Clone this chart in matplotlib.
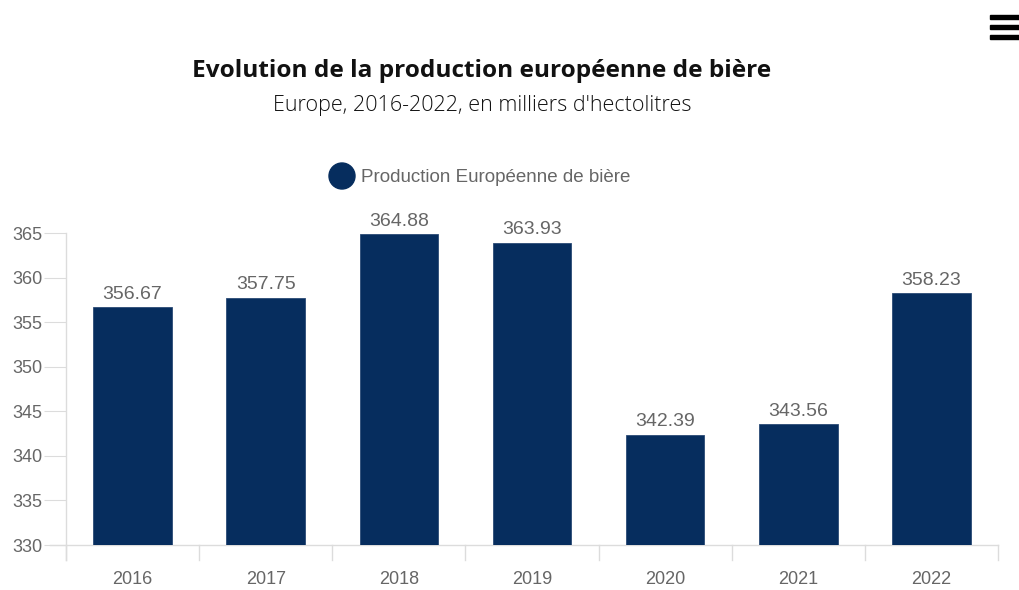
import matplotlib.pyplot as plt
from matplotlib.patches import Ellipse, Rectangle

annees = ['2016', '2017', '2018', '2019', '2020', '2021', '2022']
production = [356.67, 357.75, 364.88, 363.93, 342.39, 343.56, 358.23]

bleu = '#062d5e'
gris = '#666666'
gris_axe = '#dcdcdc'

fig = plt.figure(figsize=(10.2, 5.9), dpi=100)
W, H = 1020, 590

# zone du graphique en pixels : x 66..998, y 233..545
ax = fig.add_axes([66 / W, 1 - 545 / H, (998 - 66) / W, (545 - 233) / H])
x = list(range(len(annees)))
ax.bar(x, production, width=0.59, color=bleu, edgecolor='#2a4a75', linewidth=0.6,
       bottom=0, zorder=2)
ax.set_xlim(-0.5, len(annees) - 0.5)
ax.set_ylim(330, 365)

for xi, v in zip(x, production):
    ax.annotate(f'{v:.2f}', (xi, v), xytext=(0, 3), textcoords='offset points',
                ha='center', va='bottom', fontsize=14, color=gris,
                family='Liberation Sans', annotation_clip=False)

for s in ax.spines.values():
    s.set_visible(False)

# axes dessinés à la main pour dépasser légèrement
ax.plot([-0.5, -0.5], [365, 328.3], color=gris_axe, lw=1, clip_on=False, zorder=1)
ax.plot([-0.62, 6.5], [330, 330], color=gris_axe, lw=1, clip_on=False, zorder=1)
for b in range(len(annees) + 1):
    ax.plot([b - 0.5, b - 0.5], [330, 328.3], color=gris_axe, lw=1, clip_on=False)

ax.set_yticks(range(330, 366, 5))
ax.tick_params(axis='y', length=16, color=gris_axe, labelcolor=gris, labelsize=13, pad=1)
ax.set_xticks(x)
ax.set_xticklabels(annees)
ax.tick_params(axis='x', length=0, labelcolor=gris, labelsize=13, pad=18.5)
for lab in ax.get_xticklabels() + ax.get_yticklabels():
    lab.set_family('Liberation Sans')

fig.text(482 / W, 1 - 71 / H, 'Evolution de la production européenne de bière',
         ha='center', va='center', fontsize=17.6, fontweight='bold', family='Open Sans', color='#111111')
fig.text(482 / W, 1 - 105 / H, "Europe, 2016-2022, en milliers d'hectolitres",
         ha='center', va='center', fontsize=15.5, fontweight=300, family='Open Sans', color='#111111')

# légende
fig.add_artist(Ellipse((342 / W, 1 - 176 / H), 26 / W, 26 / H, color=bleu,
                       transform=fig.transFigure))
fig.text(361 / W, 1 - 177 / H, 'Production Européenne de bière', ha='left', va='center',
         fontsize=13.5, color=gris, family='Liberation Sans')

# icône menu
for yb in (15, 25, 35):
    fig.add_artist(Rectangle((990 / W, 1 - (yb + 4) / H), 29 / W, 4 / H,
                             color='black', transform=fig.transFigure))

fig.savefig('out.png', dpi=100)
